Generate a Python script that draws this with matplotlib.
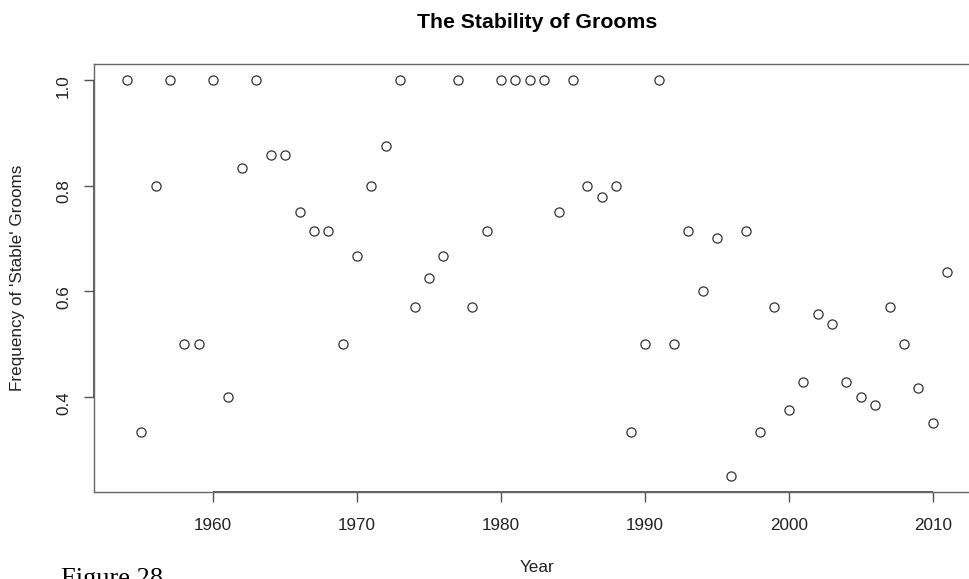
import matplotlib
matplotlib.use("Agg")
import matplotlib.pyplot as plt

# Frequency of 'stable' grooms per year
years = list(range(1954, 2012))
freq = [1.0, 0.333, 0.8, 1.0, 0.5, 0.5, 1.0, 0.4, 0.833, 1.0,
        0.857, 0.857, 0.75, 0.714, 0.714, 0.5, 0.667, 0.8, 0.875, 1.0,
        0.571, 0.625, 0.667, 1.0, 0.571, 0.714, 1.0, 1.0, 1.0, 1.0,
        0.75, 1.0, 0.8, 0.778, 0.8, 0.333, 0.5, 1.0, 0.5, 0.714,
        0.6, 0.7, 0.25, 0.714, 0.333, 0.571, 0.375, 0.429, 0.556, 0.538,
        0.429, 0.4, 0.385, 0.571, 0.5, 0.417, 0.35, 0.636]
xticks = [1960, 1970, 1980, 1990, 2000, 2010]
yticks = [0.4, 0.6, 0.8, 1.0]

plt.rcParams['font.family'] = ['Liberation Sans', 'DejaVu Sans']

W, H = 969, 579
fig = plt.figure(figsize=(W / 100, H / 100), dpi=100)
# plot region runs past the right edge, like the cropped original
ax = fig.add_axes([94 / W, 1 - 492 / H, (980 - 94) / W, 428 / H])

ax.plot(years, freq, linestyle='none', marker='o', markersize=6.6,
        markerfacecolor='none', markeredgecolor='#333333', markeredgewidth=0.9)

# R style axis ranges (4% padding)
xr = max(years) - min(years)
yr = max(freq) - min(freq)
ax.set_xlim(min(years) - 0.04 * xr, max(years) + 0.04 * xr)
ax.set_ylim(min(freq) - 0.04 * yr, max(freq) + 0.04 * yr)

ax.set_xticks(xticks)
ax.set_yticks(yticks)
ax.set_yticklabels(["%.1f" % v for v in yticks])
ax.tick_params(axis='both', direction='out', length=7.5, width=1.0,
               color='#555555', labelsize=12.3, labelcolor='#222222')
ax.tick_params(axis='x', pad=11)
ax.tick_params(axis='y', pad=9, labelrotation=90)
for s in ax.spines.values():
    s.set_color('#666666')
    s.set_linewidth(1.0)
ax.spines['right'].set_visible(False)

# axis lines between first and last tick, drawn over the box
ax.plot([xticks[0], xticks[-1]], [ax.get_ylim()[0]] * 2, color='#444444',
        lw=1.2, clip_on=False, solid_capstyle='butt')
ax.plot([ax.get_xlim()[0]] * 2, [yticks[0], yticks[-1]], color='#444444',
        lw=1.2, clip_on=False, solid_capstyle='butt')

fig.suptitle("The Stability of Grooms", x=537 / W, y=1 - 22.5 / H,
             fontsize=15.3, fontweight='bold', va='center', ha='center')

ax.set_xlabel("Year", fontsize=12.3, va='center', color='#222222')
ax.xaxis.set_label_coords(0.5, -(568 - 492) / 428)
ax.set_ylabel("Frequency of 'Stable' Grooms", fontsize=12.3, va='center', color='#222222')
ax.yaxis.set_label_coords(-(94 - 18) / 886, 0.5)

# caption from the source document, cut by the bottom edge as in the original
fig.text(61 / W, 1 - 568 / H, "Figure 28", family='Liberation Serif',
         fontsize=19, va='top', ha='left', color='black')

fig.savefig("out.png", dpi=100)
